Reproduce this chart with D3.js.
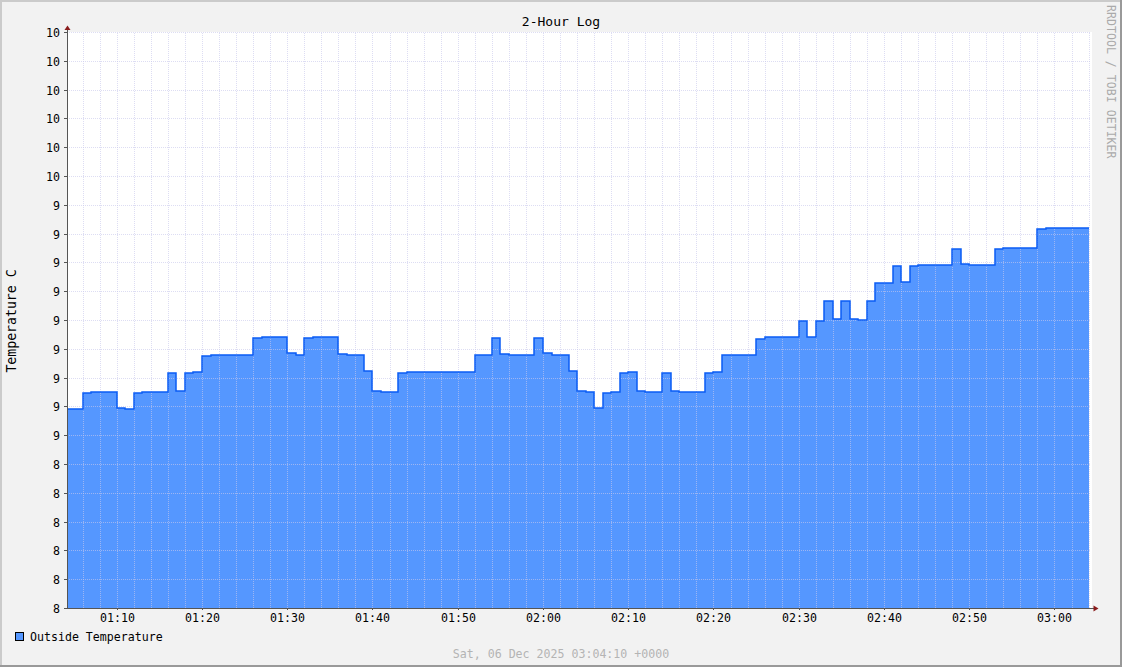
<!DOCTYPE html>
<html>
<head>
<meta charset="utf-8">
<script src="https://cdn.jsdelivr.net/npm/d3@7"></script>
<style>
  body { margin: 0; background: #f2f2f2; }
  svg { display: block; font-family: "DejaVu Sans Mono", monospace; }
  .grid line { stroke: rgba(200, 200, 236, 0.62); stroke-dasharray: 1,1; shape-rendering: crispEdges; }
  .grid .domain { display: none; }
  .axis line { stroke: #555; shape-rendering: crispEdges; }
  .axis .domain { display: none; }
  .axis text { font-family: "DejaVu Sans Mono", monospace; font-size: 11.6px; fill: #000; }
</style>
</head>
<body>
<svg width="1122" height="667"></svg>
<script>
(function (d3) {
  'use strict';

  // chart texts
  const title = '2-Hour Log';
  const yAxisLabel = 'Temperature C';
  const legendLabel = 'Outside Temperature';
  const footerText = 'Sat, 06 Dec 2025 03:04:10 +0000';
  const watermark = 'RRDTOOL / TOBI OETIKER';

  // time window (UTC)
  const day = '2025-12-06';
  const windowStart = '01:04:10';
  const windowEnd = '03:04:10';
  const firstMinute = '01:04:00';

  // one reading per minute, starting at firstMinute
  const temps = [
    8.690, 8.690, 8.745, 8.750, 8.750, 8.750, 8.693, 8.690, 8.745, 8.750,
    8.750, 8.750, 8.815, 8.753, 8.815, 8.818, 8.874, 8.878, 8.878, 8.878,
    8.878, 8.878, 8.936, 8.941, 8.941, 8.941, 8.885, 8.878, 8.936, 8.941,
    8.941, 8.941, 8.882, 8.878, 8.878, 8.822, 8.753, 8.750, 8.750, 8.815,
    8.818, 8.818, 8.818, 8.818, 8.818, 8.818, 8.818, 8.818, 8.878, 8.878,
    8.936, 8.882, 8.878, 8.878, 8.878, 8.936, 8.885, 8.878, 8.878, 8.822,
    8.753, 8.750, 8.693, 8.747, 8.750, 8.815, 8.818, 8.753, 8.750, 8.750,
    8.815, 8.753, 8.750, 8.750, 8.750, 8.815, 8.818, 8.878, 8.878, 8.878,
    8.878, 8.935, 8.940, 8.940, 8.940, 8.940, 8.995, 8.940, 8.995, 9.066,
    9.002, 9.066, 9.002, 9.000, 9.066, 9.128, 9.128, 9.186, 9.132, 9.186,
    9.190, 9.190, 9.190, 9.190, 9.245, 9.194, 9.190, 9.190, 9.190, 9.245,
    9.249, 9.249, 9.249, 9.249, 9.315, 9.319, 9.319, 9.319, 9.319, 9.319
  ];

  // y ticks: rrdtool prints them with %.0lf
  const yTickValues = [8.0, 8.1, 8.2, 8.3, 8.4, 8.5, 8.6, 8.7, 8.8, 8.9, 9.0,
                       9.1, 9.2, 9.3, 9.4, 9.5, 9.6, 9.7, 9.8, 9.9, 10.0];
  const yTickLabels = ['8', '8', '8', '8', '8', '8', '9', '9', '9', '9', '9',
                       '9', '9', '9', '9', '10', '10', '10', '10', '10', '10'];

  const xTickLabels = ['01:10', '01:20', '01:30', '01:40', '01:50', '02:00',
                       '02:10', '02:20', '02:30', '02:40', '02:50', '03:00'];

  const areaColor = '#5597ff';
  const lineColor = '#0a5cf5';

  const svg = d3.select('svg');
  const width = +svg.attr('width');
  const height = +svg.attr('height');
  const plot = { left: 67, right: 1090, top: 32, bottom: 608 };

  const parseTime = d3.utcParse('%Y-%m-%d %H:%M:%S');
  const tStart = parseTime(`${day} ${windowStart}`);
  const tEnd = parseTime(`${day} ${windowEnd}`);
  const t0 = parseTime(`${day} ${firstMinute}`);

  const points = temps.map((v, i) => ({ t: d3.utcMinute.offset(t0, i), v }));
  // closing point so the last step gets its full width
  points.push({ t: d3.utcMinute.offset(t0, temps.length), v: temps[temps.length - 1] });

  const x = d3.scaleUtc()
    .domain([tStart, tEnd])
    .rangeRound([plot.left, plot.right]);

  const y = d3.scaleLinear()
    .domain([yTickValues[0], yTickValues[yTickValues.length - 1]])
    .rangeRound([plot.bottom, plot.top]);

  const majorTimes = xTickLabels.map(s => parseTime(`${day} ${s}:00`));
  const minorTimes = d3.utcMinute.every(2).range(d3.utcMinute.ceil(tStart), tEnd);

  // background + 3d frame
  svg.append('rect').attr('width', width).attr('height', height).attr('fill', '#f2f2f2');
  svg.append('rect').attr('x', 0).attr('y', 0).attr('width', width).attr('height', 2).attr('fill', '#cbcbcb');
  svg.append('rect').attr('x', 0).attr('y', 0).attr('width', 2).attr('height', height).attr('fill', '#cbcbcb');
  svg.append('rect').attr('x', 0).attr('y', height - 2).attr('width', width).attr('height', 2).attr('fill', '#999');
  svg.append('rect').attr('x', width - 2).attr('y', 0).attr('width', 2).attr('height', height).attr('fill', '#999');

  // canvas
  svg.append('rect')
    .attr('x', plot.left).attr('y', plot.top)
    .attr('width', plot.right - plot.left + 2)
    .attr('height', plot.bottom - plot.top)
    .attr('fill', '#fff');

  svg.append('clipPath').attr('id', 'plot-clip')
    .append('rect')
      .attr('x', plot.left).attr('y', 0)
      .attr('width', plot.right - plot.left + 2)
      .attr('height', plot.bottom);

  const area = d3.area()
    .curve(d3.curveStepAfter)
    .x(d => x(d.t))
    .y0(y(yTickValues[0]))
    .y1(d => y(d.v));

  const line = d3.line()
    .curve(d3.curveStepAfter)
    .x(d => x(d.t))
    .y(d => y(d.v));

  svg.append('path')
    .datum(points)
    .attr('clip-path', 'url(#plot-clip)')
    .attr('fill', areaColor)
    .attr('d', area);

  // grid on top of the area, like rrdtool does
  svg.append('g')
    .attr('class', 'grid')
    .attr('transform', `translate(0,${plot.bottom})`)
    .call(d3.axisBottom(x).tickValues(minorTimes).tickSize(-(plot.bottom - plot.top)).tickFormat(''));

  svg.append('g')
    .attr('class', 'grid')
    .attr('transform', `translate(${plot.left},0)`)
    .call(d3.axisLeft(y).tickValues(yTickValues).tickSize(-(plot.right - plot.left)).tickFormat(''));

  svg.append('path')
    .datum(points)
    .attr('clip-path', 'url(#plot-clip)')
    .attr('fill', 'none')
    .attr('stroke', lineColor)
    .attr('stroke-width', 1.5)
    .attr('d', line);

  // axes with labels
  const yAxisG = svg.append('g')
    .attr('class', 'axis')
    .attr('transform', `translate(${plot.left},0)`)
    .call(d3.axisLeft(y)
      .tickValues(yTickValues)
      .tickFormat((d, i) => yTickLabels[i])
      .tickSize(3)
      .tickPadding(4));
  yAxisG.selectAll('text').attr('dy', '0.37em');

  svg.append('g')
    .attr('class', 'axis')
    .attr('transform', `translate(0,${plot.bottom})`)
    .call(d3.axisBottom(x)
      .tickValues(majorTimes)
      .tickFormat(d3.utcFormat('%H:%M'))
      .tickSize(2)
      .tickPadding(4));

  // axis lines and arrows
  svg.append('line')
    .attr('x1', plot.left + 0.5).attr('x2', plot.left + 0.5)
    .attr('y1', plot.bottom + 1).attr('y2', plot.top - 4)
    .attr('stroke', '#555').attr('stroke-width', 1);
  svg.append('line')
    .attr('x1', plot.left).attr('x2', plot.right + 4)
    .attr('y1', plot.bottom + 0.5).attr('y2', plot.bottom + 0.5)
    .attr('stroke', '#555').attr('stroke-width', 1);

  const arrowColor = '#8a1c1c';
  svg.append('path')
    .attr('d', `M${plot.left + 0.5},${plot.top - 6.5} L${plot.left + 3.5},${plot.top - 2} L${plot.left - 2.5},${plot.top - 2} Z`)
    .attr('fill', arrowColor);
  svg.append('path')
    .attr('d', `M${plot.right + 8.5},${plot.bottom + 0.5} L${plot.right + 3.5},${plot.bottom - 2.5} L${plot.right + 3.5},${plot.bottom + 3.5} Z`)
    .attr('fill', arrowColor);

  // texts
  svg.append('text')
    .attr('x', width / 2).attr('y', 26)
    .attr('text-anchor', 'middle')
    .attr('font-size', '13px')
    .attr('fill', '#000')
    .text(title);

  svg.append('text')
    .attr('transform', `translate(15.5,${(plot.top + plot.bottom) / 2 + 1}) rotate(-90)`)
    .attr('text-anchor', 'middle')
    .attr('font-size', '13.2px')
    .attr('fill', '#000')
    .text(yAxisLabel);

  svg.append('text')
    .attr('transform', 'translate(1106.5,5) rotate(90)')
    .attr('font-size', '11.6px')
    .attr('fill', '#aaa')
    .text(watermark);

  svg.append('rect')
    .attr('x', 15.5).attr('y', 632.5)
    .attr('width', 8).attr('height', 8)
    .attr('fill', areaColor)
    .attr('stroke', '#000');

  svg.append('text')
    .attr('x', 30).attr('y', 641)
    .attr('font-size', '11.6px')
    .attr('fill', '#000')
    .text(legendLabel);

  svg.append('text')
    .attr('x', width / 2).attr('y', 658)
    .attr('text-anchor', 'middle')
    .attr('font-size', '11.6px')
    .attr('fill', '#b4b4b4')
    .text(footerText);

}(d3));
</script>
</body>
</html>
